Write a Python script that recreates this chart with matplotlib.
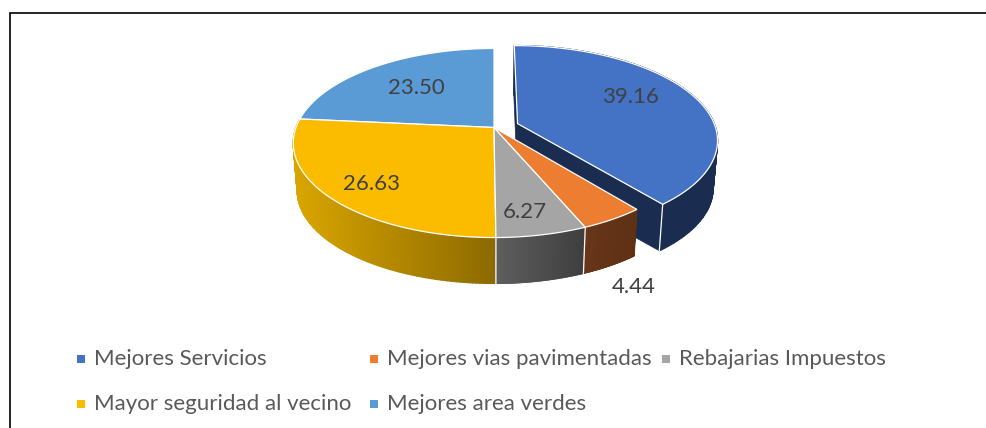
import matplotlib
matplotlib.use('Agg')
import matplotlib.pyplot as plt
from matplotlib.colors import to_rgb
import numpy as np

categories = ['Mejores Servicios', 'Mejores vias pavimentadas', 'Rebajarias Impuestos',
              'Mayor seguridad al vecino', 'Mejores area verdes']
values = [39.16, 4.44, 6.27, 26.63, 23.50]
value_labels = ['39.16', '4.44', '6.27', '26.63', '23.50']

top_colors = ['#4472C4', '#ED7D31', '#A5A5A5', '#FBBC00', '#5B9BD5']
# wall colour at the left / right end of each slice
wall_left = ['#1A2C50', '#68361A', '#5E5E5E', '#D9A500', '#2E5A85']
wall_right = ['#1A2C50', '#5E3014', '#3E3E3E', '#8C6A00', '#2E5A85']
explode = [0.127, 0, 0, 0, 0]

label_xy = [(630, 95), (634, 285), (525, 210), (371, 182), (416, 86)]
legend_xy = [(81, 358.5), (374, 358.5), (666, 358.5), (81, 403.5), (374, 403.5)]

cx, cy = 494, 127.5
rx, ry = 198, 92
persp = 0.164
depth = 48
shrink = 0.98


def project(u, v, bottom=False):
    den = 1 + persp * v
    x = rx * u / den
    y = -ry * v / den
    if bottom:
        return cx + x * shrink, cy + y * shrink + depth
    return cx + x, cy + y


def rim(a0, a1, off_u, off_v, bottom=False, n=120):
    t = np.radians(np.linspace(a0, a1, n))
    return project(np.sin(t) + off_u, np.cos(t) + off_v, bottom)


def mix(c0, c1, f):
    a, b = np.array(to_rgb(c0)), np.array(to_rgb(c1))
    return tuple(a + (b - a) * f)


def draw_walls(ax, i):
    a0, a1 = angles[i], angles[i + 1]
    du, dv = offsets[i]
    xt, yt = rim(a0, a1, du, dv)
    xb, yb = rim(a0, a1, du, dv, bottom=True)
    xlo, xhi = xt.min(), xt.max()
    for j in range(len(xt) - 1):
        f = (0.5 * (xt[j] + xt[j + 1]) - xlo) / (xhi - xlo)
        col = mix(wall_left[i], wall_right[i], f)
        ax.fill([xt[j], xt[j + 1], xb[j + 1], xb[j]],
                [yt[j], yt[j + 1], yb[j + 1], yb[j]],
                color=col, lw=1.0, zorder=2)


def draw_cut(ax, i, a):
    # flat cut face from the slice centre out to the rim
    du, dv = offsets[i]
    t = np.radians(a)
    xa, ya = project(np.array([du, du + np.sin(t)]), np.array([dv, dv + np.cos(t)]))
    xc, yc = project(np.array([du, du + np.sin(t)]), np.array([dv, dv + np.cos(t)]), True)
    ax.fill([xa[0], xa[1], xc[1], xc[0]], [ya[0], ya[1], yc[1], yc[0]],
            color=wall_left[i], lw=0.5, zorder=2)


def draw_top(ax, i):
    du, dv = offsets[i]
    xt, yt = rim(angles[i], angles[i + 1], du, dv)
    x0, y0 = project(np.array([du]), np.array([dv]))
    ax.fill(np.r_[x0, xt], np.r_[y0, yt], facecolor=top_colors[i],
            edgecolor='white', lw=0.9, joinstyle='miter', zorder=4)


def draw_corner(ax, i, a):
    du, dv = offsets[i]
    t = np.radians(a)
    x0, y0 = project(np.sin(t) + du, np.cos(t) + dv)
    x1, y1 = project(np.sin(t) + du, np.cos(t) + dv, True)
    ax.plot([x0, x1], [y0, y1], color='white', lw=0.9, zorder=3)


angles = np.r_[0, np.cumsum(values)] / sum(values) * 360
offsets = []
for i in range(len(values)):
    mid = np.radians(0.5 * (angles[i] + angles[i + 1]))
    offsets.append((explode[i] * np.sin(mid), explode[i] * np.cos(mid)))

fig = plt.figure(figsize=(9.86, 4.28), dpi=100)
ax = fig.add_axes([0, 0, 1, 1])
ax.set_xlim(0, 986)
ax.set_ylim(428, 0)
ax.axis('off')

# frame of the pasted chart: only left and top sides show
ax.plot([10, 10, 986], [428, 12.7, 12.7], color='black', lw=1.2, zorder=1,
        solid_joinstyle='miter')

draw_cut(ax, 0, angles[0])
draw_cut(ax, 0, angles[1])
for i in [0, 3, 2, 1]:
    draw_walls(ax, i)
draw_corner(ax, 0, angles[1])
draw_corner(ax, 2, angles[2])
draw_corner(ax, 3, angles[3])
for i in [4, 0, 3, 2, 1]:
    draw_top(ax, i)

plt.rcParams['font.family'] = ['Lato', 'DejaVu Sans']
for text, (x, y) in zip(value_labels, label_xy):
    ax.text(x, y + 8, text, ha='center', va='baseline', fontsize=16, color='#404040', zorder=5)

for name, col, (x, y) in zip(categories, top_colors, legend_xy):
    ax.scatter([x], [y], marker='s', s=33, color=col, lw=0, zorder=5)
    ax.text(x + 13, y + 6.5, name, ha='left', va='baseline', fontsize=16, color='#595959', zorder=5)

fig.savefig('out.png', dpi=100)
